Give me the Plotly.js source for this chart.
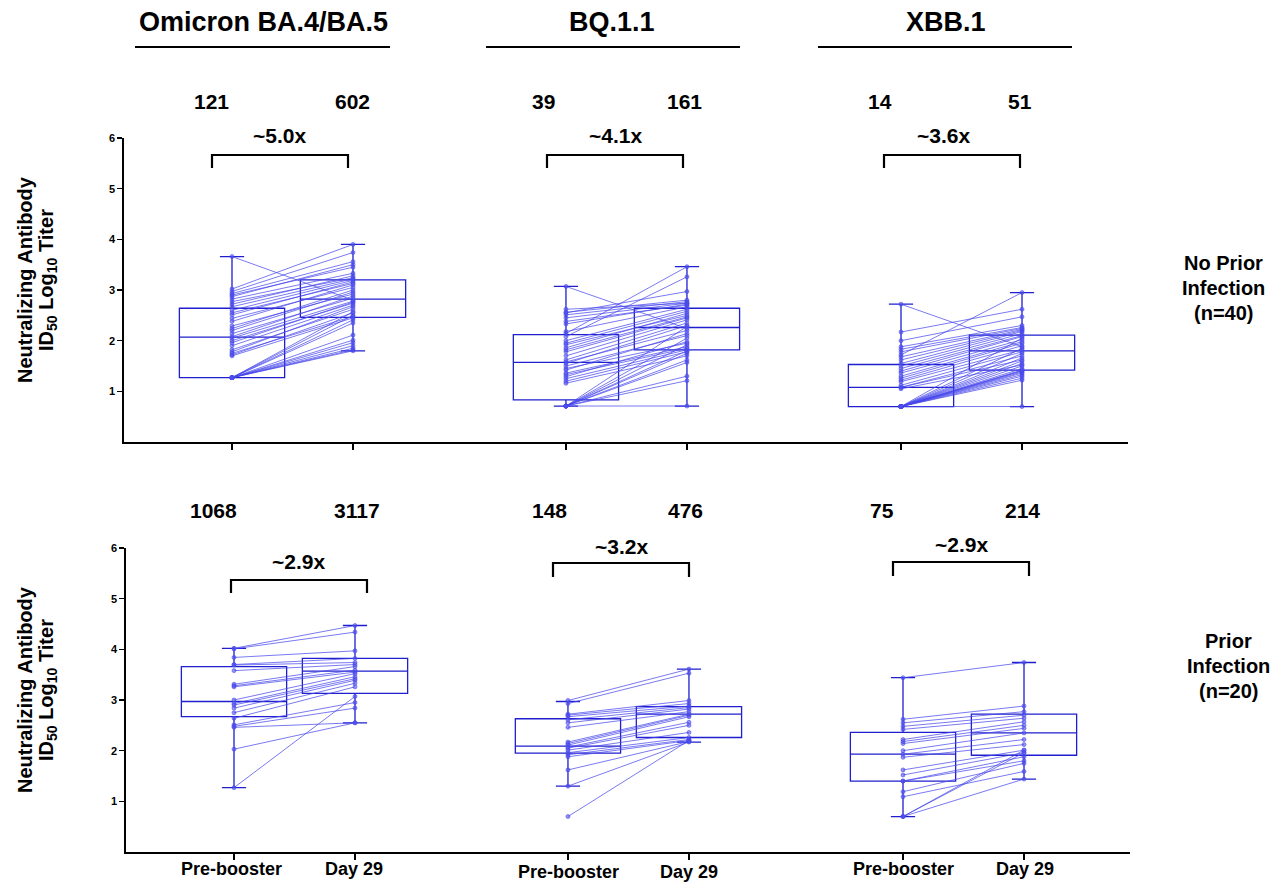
<!DOCTYPE html>
<html>
<head>
<meta charset="utf-8">
<script src="https://cdn.plot.ly/plotly-3.0.1.min.js"></script>
<style>html,body{margin:0;padding:0;background:#fff;}#chart{width:1272px;height:883px;}</style>
</head>
<body>
<div id="chart"></div>
<script>
// ---------------- DATA (log10 ID50 titers) ----------------
const variants = ["Omicron BA.4/BA.5", "BQ.1.1", "XBB.1"];
const timepoints = ["Pre-booster", "Day 29"];
const rowLabels = [["No Prior", "Infection", "(n=40)"], ["Prior", "Infection", "(n=20)"]];

const gmtNoPrior = [["121", "602"], ["39", "161"], ["14", "51"]];
const gmtPrior = [["1068", "3117"], ["148", "476"], ["75", "214"]];
const foldNoPrior = ["~5.0x", "~4.1x", "~3.6x"];
const foldPrior = ["~2.9x", "~3.2x", "~2.9x"];

// No prior infection, Omicron BA.4/BA.5
const omiNoPre = [1.27,1.27,1.27,1.27,1.27,1.27,1.27,1.27,1.27,1.27,1.27,
  1.70,1.72,1.75,1.78,1.82,1.90,1.96,2.00,2.05,2.08,2.14,2.20,2.24,2.29,2.38,2.44,2.51,2.55,2.60,2.67,2.72,2.77,2.82,2.87,2.90,2.93,2.97,3.02,3.66];
const omiNoD29 = [1.80,1.82,1.85,1.90,1.96,2.01,2.11,2.35,2.41,2.50,2.57,
  2.45,2.55,2.48,2.67,2.62,2.70,2.76,2.74,2.78,2.88,2.84,2.96,3.00,2.92,3.10,3.05,3.16,3.13,3.19,3.22,3.28,3.24,3.33,3.50,3.45,3.56,3.74,3.90,2.80];
// No prior infection, BQ.1.1
const bqNoPre = [0.71,0.71,0.71,0.71,0.71,0.71,0.71,0.71,0.71,0.71,
  1.16,1.20,1.25,1.29,1.33,1.36,1.42,1.45,1.50,1.55,1.58,1.62,1.70,1.78,1.82,1.86,1.92,1.95,2.00,2.08,2.14,2.18,2.33,2.38,2.45,2.51,2.55,2.56,2.62,3.07];
const bqNoD29 = [0.71,1.21,1.30,1.57,1.62,1.75,1.80,1.92,2.05,2.28,
  1.70,1.78,1.82,1.98,1.85,1.88,2.14,1.95,2.10,2.30,2.20,2.35,2.41,2.45,2.47,2.54,2.50,2.58,2.62,3.26,3.46,2.67,2.72,2.70,2.74,2.77,2.97,2.80,2.74,2.24];
// No prior infection, XBB.1
const xbbNoPre = [0.70,0.70,0.70,0.70,0.70,0.70,0.70,0.70,0.70,0.70,0.70,0.70,0.70,0.70,0.70,0.70,0.70,0.70,
  1.05,1.08,1.08,1.12,1.19,1.22,1.26,1.30,1.36,1.40,1.45,1.50,1.55,1.62,1.68,1.72,1.78,1.83,1.88,2.00,2.17,2.72];
const xbbNoD29 = [0.70,1.22,1.26,1.30,1.33,1.36,1.38,1.40,1.41,1.42,1.45,1.50,1.55,1.60,1.66,1.75,1.85,2.05,
  1.52,1.62,1.70,1.78,1.82,1.90,1.95,1.98,2.02,2.08,2.10,2.14,2.18,2.20,2.22,2.95,2.24,2.26,2.30,2.47,2.62,1.88];

// Prior infection, Omicron BA.4/BA.5
const omiPrPre = [4.02,4.01,3.84,3.70,3.69,3.58,3.31,3.28,3.26,3.00,2.93,2.90,2.84,2.75,2.64,2.51,2.48,2.46,2.03,1.27];
const omiPrD29 = [4.47,4.34,3.97,3.82,3.74,3.70,3.66,3.59,3.55,3.52,3.46,3.42,3.39,3.33,3.26,2.95,2.84,2.55,2.55,3.07];
// Prior infection, BQ.1.1
const bqPrPre = [2.99,2.93,2.72,2.70,2.67,2.61,2.55,2.46,2.17,2.14,2.11,2.07,2.05,2.01,1.96,1.92,1.88,1.62,1.30,0.70];
const bqPrD29 = [3.61,3.53,2.99,2.93,2.88,2.85,2.82,2.77,2.72,2.70,2.67,2.56,2.50,2.36,2.26,2.22,2.20,2.18,2.17,2.20];
// Prior infection, XBB.1
const xbbPrPre = [3.44,2.62,2.55,2.48,2.42,2.22,2.18,2.14,2.00,1.93,1.87,1.62,1.52,1.40,1.40,1.19,1.09,0.70,0.70,0.70];
const xbbPrD29 = [3.74,2.88,2.77,2.70,2.64,2.57,2.50,2.44,2.35,2.22,2.12,2.01,1.96,1.88,1.80,1.75,1.59,1.96,2.01,1.44];

// Box summaries [min, Q1, median, Q3, max]
const boxNoPrior = [
  [[1.27,1.27,2.07,2.64,3.66],[1.80,2.46,2.82,3.20,3.90]],
  [[0.71,0.83,1.57,2.12,3.07],[0.71,1.82,2.26,2.64,3.46]],
  [[0.70,0.70,1.08,1.53,2.72],[0.70,1.42,1.80,2.11,2.95]]
];
const boxPrior = [
  [[1.27,2.67,2.97,3.66,4.02],[2.55,3.13,3.57,3.82,4.47]],
  [[1.30,1.95,2.09,2.63,2.97],[2.17,2.26,2.72,2.87,3.61]],
  [[0.70,1.40,1.93,2.36,3.44],[1.44,1.91,2.35,2.72,3.74]]
];

// ---------------- LAYOUT HELPERS ----------------
const W = 1272, H = 883;
const PX = x => x / W;
const PY = y => 1 - y / H;
const FONT = 'Arial, "Liberation Sans", sans-serif';
const groupX = [[1, 2], [3.76, 4.76], [6.529, 7.529]];
const sepX = [2.884, 5.636];
const BOXC = '#1f1fd0';
const LINEC = 'rgba(70,70,235,0.72)';

const rows = [
  {xa: 'x', ya: 'y', pre: [omiNoPre, bqNoPre, xbbNoPre], d29: [omiNoD29, bqNoD29, xbbNoD29], box: boxNoPrior},
  {xa: 'x2', ya: 'y2', pre: [omiPrPre, bqPrPre, xbbPrPre], d29: [omiPrD29, bqPrD29, xbbPrD29], box: boxPrior}
];

const traces = [];
rows.forEach(r => {
  for (let g = 0; g < 3; g++) {
    for (let t = 0; t < 2; t++) {
      const s = r.box[g][t];
      traces.push({
        type: 'box', xaxis: r.xa, yaxis: r.ya,
        x: [groupX[g][t]], lowerfence: [s[0]], q1: [s[1]], median: [s[2]], q3: [s[3]], upperfence: [s[4]],
        width: 0.87, whiskerwidth: 0.23, boxpoints: false,
        fillcolor: 'rgba(0,0,0,0)', line: {color: BOXC, width: 1.3},
        showlegend: false, hoverinfo: 'skip'
      });
    }
  }
  for (let g = 0; g < 3; g++) {
    const xs = [], ys = [];
    r.pre[g].forEach((v, i) => {
      xs.push(groupX[g][0], groupX[g][1], null);
      ys.push(v, r.d29[g][i], null);
    });
    traces.push({
      type: 'scatter', mode: 'lines+markers', xaxis: r.xa, yaxis: r.ya,
      x: xs, y: ys, connectgaps: false,
      line: {color: LINEC, width: 1},
      marker: {size: 4, color: 'rgba(80,80,235,0.6)', line: {color: LINEC, width: 0.8}},
      showlegend: false, hoverinfo: 'skip'
    });
  }
});

const xRange = [0.1074, 8.405];
const allTicks = [groupX[0][0], groupX[0][1], groupX[1][0], groupX[1][1], groupX[2][0], groupX[2][1]];
function xAxis(domain) {
  return {domain: domain, range: xRange, showgrid: false, zeroline: false, showline: true,
    linecolor: '#000', linewidth: 1.6, ticks: 'outside', ticklen: 6, tickwidth: 1.4, tickcolor: '#000',
    tickvals: allTicks, showticklabels: false, fixedrange: true};
}
function yAxis(domain, anchor) {
  return {domain: domain, range: [0, 6], anchor: anchor, showgrid: false, zeroline: false, showline: true,
    linecolor: '#000', linewidth: 1.6, ticks: 'outside', ticklen: 5, tickwidth: 1.4, tickcolor: '#000',
    tickvals: [1, 2, 3, 4, 5, 6], ticktext: ['<b>1</b>', '<b>2</b>', '<b>3</b>', '<b>4</b>', '<b>5</b>', '<b>6</b>'],
    tickfont: {family: FONT, size: 11, color: '#000'}, fixedrange: true};
}

const ann = [];
const shapes = [];
function txt(x, y, text, size, extra) {
  ann.push(Object.assign({xref: 'paper', yref: 'paper', x: PX(x), y: PY(y), text: '<b>' + text + '</b>',
    showarrow: false, xanchor: 'center', yanchor: 'middle', font: {family: FONT, size: size, color: '#000'}}, extra || {}));
}
function seg(x0, y0, x1, y1, w) {
  shapes.push({type: 'line', xref: 'paper', yref: 'paper', x0: PX(x0), y0: PY(y0), x1: PX(x1), y1: PY(y1),
    line: {color: '#000', width: w}});
}

// Headers
const headX = [263, 612, 946];
const headLine = [[135, 390], [486, 740], [818, 1072]];
variants.forEach((v, i) => {
  txt(headX[i], 22, v, 27);
  seg(headLine[i][0], 47, headLine[i][1], 47, 2);
});

// GMT numbers
const gmtTopX = [[211, 352], [543, 684], [880, 1020]];
const gmtBotX = [[213, 357], [549, 685], [882, 1022]];
for (let g = 0; g < 3; g++) {
  for (let t = 0; t < 2; t++) {
    txt(gmtTopX[g][t], 102, gmtNoPrior[g][t], 21);
    txt(gmtBotX[g][t], 510, gmtPrior[g][t], 21);
  }
}

// Fold brackets
const brTop = [[212, 348], [547, 683], [884, 1020]];
const brBot = [[231, 367, 580, 593], [553, 689, 563, 577], [893, 1029, 562, 576]];
const foldTopX = [279, 615, 944];
const foldBotPos = [[298, 561], [621, 546], [961, 544]];
for (let g = 0; g < 3; g++) {
  const b = brTop[g];
  seg(b[0], 155, b[1], 155, 2.2); seg(b[0], 154, b[0], 168, 2.2); seg(b[1], 154, b[1], 168, 2.2);
  txt(foldTopX[g], 136, foldNoPrior[g], 21);
  const c = brBot[g];
  seg(c[0], c[2], c[1], c[2], 2.2); seg(c[0], c[2] - 1, c[0], c[3], 2.2); seg(c[1], c[2] - 1, c[1], c[3], 2.2);
  txt(foldBotPos[g][0], foldBotPos[g][1], foldPrior[g], 21);
}

// X category labels
const labX = [[232, 354], [568, 689], [903, 1025]];
const labY = [869, 872, 869];
for (let g = 0; g < 3; g++) {
  for (let t = 0; t < 2; t++) txt(labX[g][t], labY[g], timepoints[t], 18);
}

// Y titles
[[280], [690]].forEach(([yc]) => {
  txt(25, yc, 'Neutralizing Antibody', 20, {textangle: -90});
  txt(47, yc, 'ID<sub>50</sub> Log<sub>10</sub> Titer', 20, {textangle: -90});
});

// Row labels
[[1223, 263], [1228, 641]].forEach(([xc, y0], r) => {
  rowLabels[r].forEach((s, k) => txt(xc, y0 + k * 25, s, 20));
});

// Separator ticks on x axes
[['x', 'y'], ['x2', 'y2']].forEach(([xr, yr]) => {
  sepX.forEach(sx => shapes.push({type: 'line', xref: xr, yref: yr, x0: sx, x1: sx, y0: 0, y1: -0.06,
    line: {color: '#000', width: 1.2}}));
});

const layout = {
  width: W, height: H, margin: {l: 0, r: 0, t: 0, b: 0},
  paper_bgcolor: '#fff', plot_bgcolor: 'rgba(0,0,0,0)',
  showlegend: false,
  xaxis: Object.assign(xAxis([PX(124), PX(1128)]), {anchor: 'y'}),
  yaxis: yAxis([PY(442), PY(138)], 'x'),
  xaxis2: Object.assign(xAxis([PX(126), PX(1130)]), {anchor: 'y2'}),
  yaxis2: yAxis([PY(852), PY(548)], 'x2'),
  annotations: ann,
  shapes: shapes
};

Plotly.newPlot('chart', traces, layout, {displayModeBar: false, staticPlot: true});
</script>
</body>
</html>
